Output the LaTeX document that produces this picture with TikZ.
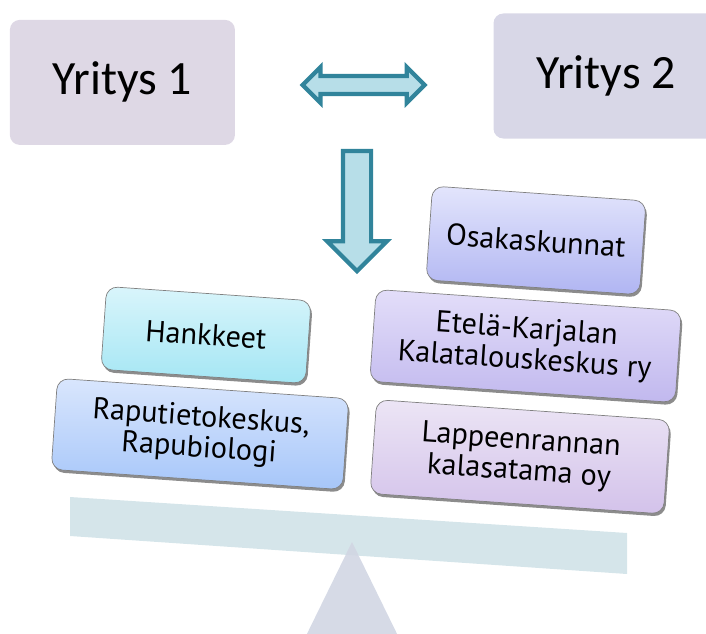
\documentclass[tikz,border=0pt]{standalone}
\usepackage{fontspec}
\setmainfont{Carlito}
\newfontfamily\boxfont{PT Sans}
\usetikzlibrary{shapes.arrows, shadows}

\definecolor{firmfill}{HTML}{DED8E5}
\definecolor{firmfillb}{HTML}{D8D7E7}
\definecolor{arrowline}{HTML}{31849B}
\definecolor{arrowfill}{HTML}{B7DEE8}
\definecolor{beamfill}{HTML}{D5E5EA}
\definecolor{pivotfill}{HTML}{D1D6E3}
\definecolor{HankTop}{HTML}{D9F5FB}
\definecolor{HankBot}{HTML}{A4E6F4}
\definecolor{RapuTop}{HTML}{D9E6FD}
\definecolor{RapuBot}{HTML}{A6C6F9}
\definecolor{OsakTop}{HTML}{E3E5FC}
\definecolor{OsakBot}{HTML}{B0B5F2}
\definecolor{EtelTop}{HTML}{E3DEF9}
\definecolor{EtelBot}{HTML}{C1B8EE}
\definecolor{LappTop}{HTML}{ECE5F5}
\definecolor{LappBot}{HTML}{D3C2EA}

\begin{document}
\begin{tikzpicture}[
    firm/.style={rectangle, rounded corners=7pt, fill=#1,
        minimum width=5.625cm, minimum height=3.125cm,
        font=\fontsize{34}{36}\selectfont},
    block/.style 2 args={rectangle, rounded corners=8pt, rotate=-4,
        draw=black!50, line width=0.5pt, top color=#1, bottom color=#2,
        align=center, inner sep=0pt, font=\boxfont\fontsize{21.5}{22}\selectfont,
        drop shadow={shadow xshift=0.4mm, shadow yshift=-0.7mm,
            opacity=0.45, fill=black}},
    bigarrow/.style={draw=arrowline, line width=3pt, fill=arrowfill,
        inner xsep=0pt, minimum width=0pt},
]
\useasboundingbox (0,0) rectangle (17.65,-15.825);
\clip (0,0) rectangle (17.65,-15.825);

% ---- Companies ----
\node[firm=firmfill] (firm1) at (3.06,-2.06) {Yritys 1};
\node[firm=firmfillb] (firm2) at (15.15,-1.9) {Yritys 2};

% ---- Block arrows ----
\node[bigarrow, double arrow, double arrow head extend=0.225cm,
    minimum height=3.05cm, inner ysep=0.17cm] (link) at (9.09,-2.125) {};
\node[bigarrow, single arrow, single arrow head extend=0.39cm,
    minimum height=3.0cm, inner ysep=0.3cm, rotate=-90] (down)
    at (8.925,-5.1) {};

% ---- Balance: beam and pivot ----
\fill[beamfill] (1.75,-12.425) -- (15.675,-13.325) -- (15.675,-14.35)
    -- (1.75,-13.4) -- cycle;
\fill[pivotfill, opacity=0.9] (8.8,-13.55) -- (10.05,-16.1) -- (7.55,-16.1)
    -- cycle;

% ---- Left pan ----
\node[block={HankTop}{HankBot}, minimum width=5.125cm, minimum height=2.075cm]
    (hank) at (5.15,-8.375) {Hankkeet};
\node[block={RapuTop}{RapuBot}, minimum width=7.3cm, minimum height=2.28cm]
    (rapu) at (5.0,-10.85) {Raputietokeskus,\\ Rapubiologi};

% ---- Right pan ----
\node[block={OsakTop}{OsakBot}, minimum width=5.35cm, minimum height=2.35cm]
    (osak) at (13.4,-6.01) {Osakaskunnat};
\node[block={EtelTop}{EtelBot}, minimum width=7.65cm, minimum height=2.3cm]
    (etel) at (13.14,-8.65) {Etelä-Karjalan\\ Kalatalouskeskus ry};
\node[block={LappTop}{LappBot}, minimum width=7.35cm, minimum height=2.35cm]
    (lapp) at (13.0,-11.42) {Lappeenrannan\\ kalasatama oy};

\end{tikzpicture}
\end{document}
